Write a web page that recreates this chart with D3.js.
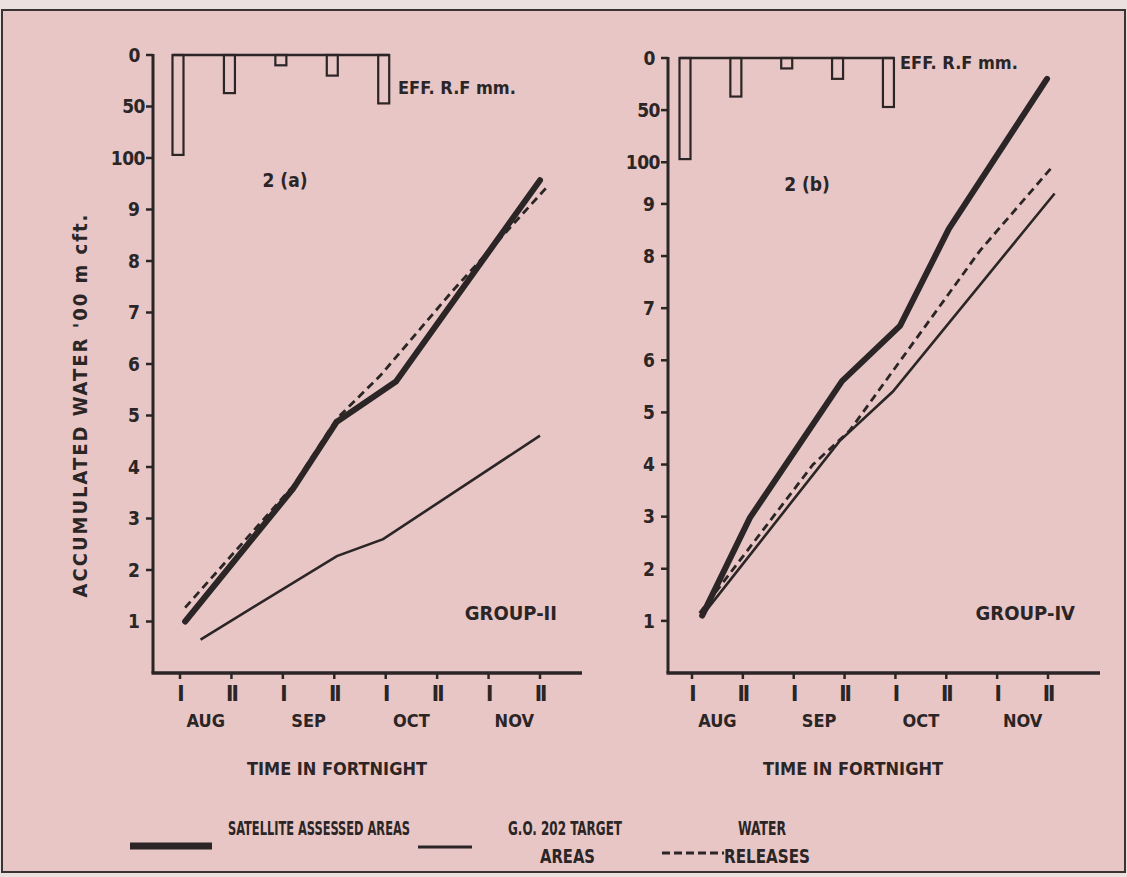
<!DOCTYPE html>
<html>
<head>
<meta charset="utf-8">
<script src="https://cdn.jsdelivr.net/npm/d3@7"></script>
<style>
  body { margin: 0; background: #ebe2df; }
  svg text { font-family: "DejaVu Sans Condensed", "DejaVu Sans", sans-serif; font-weight: bold; fill: #2b2526; }
</style>
</head>
<body>
<svg id="chart"></svg>
<script>
// data

// x categories: fortnights I / II of each month (index 1..8)
var fortnights = ['I', 'II', 'I', 'II', 'I', 'II', 'I', 'II'];
var months = ['AUG', 'SEP', 'OCT', 'NOV'];

// effective rainfall, mm, for the first five fortnights
var rainfall = [97, 37, 10, 20, 47];
var rainTicks = [0, 50, 100];
var waterTicks = [1, 2, 3, 4, 5, 6, 7, 8, 9];

// GROUP-II, accumulated water '00 m cft. (x = fortnight index)
var g2SatX = [1.1, 3.2, 4.05, 5.2, 8.0],
    g2SatY = [1.0, 3.58, 4.88, 5.66, 9.57];
var g2TargetX = [1.4, 4.05, 4.95, 8.0],
    g2TargetY = [0.65, 2.27, 2.6, 4.61];
var g2ReleaseX = [1.1, 3.2, 4.05, 4.9, 6.3, 8.13],
    g2ReleaseY = [1.27, 3.63, 4.94, 5.78, 7.42, 9.43];

// GROUP-IV
var g4SatX = [1.2, 2.14, 3.95, 5.09, 6.05, 7.98],
    g4SatY = [1.1, 2.98, 5.6, 6.66, 8.52, 11.4];
var g4TargetX = [1.2, 3.9, 4.95, 8.13],
    g4TargetY = [1.1, 4.45, 5.4, 9.2];
var g4ReleaseX = [1.15, 3.38, 4.1, 6.66, 8.1],
    g4ReleaseY = [1.15, 4.0, 4.65, 8.1, 9.73];

var W = 1127, H = 877;
var ink = '#2b2526';

var svg = d3.select('#chart')
            .attr('width', W)
            .attr('height', H);

// paper + frame
svg.append('rect')
    .attr('x', 2).attr('y', 10)
    .attr('width', W - 4).attr('height', H - 15)
    .attr('fill', '#e7c6c5')
    .attr('stroke', '#3a3334')
    .attr('stroke-width', 2);

var line = d3.line().curve(d3.curveLinear);

function zip(xs, ys) {
    return xs.map(function(d, i) { return [d, ys[i]]; });
}

function drawPanel(p) {
    var x = d3.scaleLinear().domain([1, 8]).range([p.xFirst, p.xLast]);
    var y = d3.scaleLinear().domain([0, p.yMax]).range([p.base, p.top]);
    // rainfall hangs down from the top of the same axis
    var rf = d3.scaleLinear().domain([0, 100]).range([y(p.yMax), y(p.yMax - 2)]);

    var g = svg.append('g');

    // y axis line
    g.append('line')
        .attr('x1', p.x0).attr('x2', p.x0)
        .attr('y1', p.top - 1).attr('y2', p.base)
        .attr('stroke', ink).attr('stroke-width', 3);
    // x axis line
    g.append('line')
        .attr('x1', p.x0 - 1.5).attr('x2', p.x1)
        .attr('y1', p.base).attr('y2', p.base)
        .attr('stroke', ink).attr('stroke-width', 3.5);

    // water ticks
    var wt = g.selectAll('.wt')
        .data(waterTicks)
        .enter().append('g')
        .attr('transform', function(d) { return 'translate(' + p.x0 + ',' + y(d) + ')'; });
    wt.append('line')
        .attr('x1', -7).attr('x2', 0)
        .attr('stroke', ink).attr('stroke-width', 2.5);
    wt.append('text')
        .attr('x', -13).attr('dy', '0.36em')
        .attr('text-anchor', 'end')
        .style('font-size', '19px')
        .text(function(d) { return d; });

    // rainfall ticks
    var rt = g.selectAll('.rt')
        .data(rainTicks)
        .enter().append('g')
        .attr('transform', function(d) { return 'translate(' + p.x0 + ',' + rf(d) + ')'; });
    rt.append('line')
        .attr('x1', -7).attr('x2', 0)
        .attr('stroke', ink).attr('stroke-width', 2.5);
    rt.append('text')
        .attr('x', function(d) { return d === 0 ? -13 : -8; }).attr('dy', '0.36em')
        .attr('text-anchor', 'end')
        .style('font-size', '19px')
        .style('letter-spacing', '-0.5px')
        .text(function(d) { return d; });

    // rainfall bars
    var bw = 11;
    var bx = function(d, i) { return x(i + 1) + p.barShift - bw / 2; };
    g.selectAll('.bar')
        .data(rainfall)
        .enter().append('rect')
        .attr('x', bx)
        .attr('y', rf(0))
        .attr('width', bw)
        .attr('height', function(d) { return rf(d) - rf(0); })
        .attr('fill', 'none')
        .attr('stroke', ink).attr('stroke-width', 2.2);
    g.append('line')
        .attr('x1', bx(0, 0)).attr('x2', bx(0, rainfall.length - 1) + bw)
        .attr('y1', rf(0)).attr('y2', rf(0))
        .attr('stroke', ink).attr('stroke-width', 2.5);
    g.append('text')
        .attr('x', p.rfLabel[0]).attr('y', p.rfLabel[1])
        .style('font-size', '18px')
        .text('EFF. R.F mm.');

    // fortnight ticks
    var ft = g.selectAll('.ft')
        .data(fortnights)
        .enter().append('g')
        .attr('transform', function(d, i) { return 'translate(' + x(i + 1) + ',' + p.base + ')'; });
    ft.append('line')
        .attr('y1', 0).attr('y2', 6)
        .attr('stroke', ink).attr('stroke-width', 2.5);
    ft.append('text')
        .attr('y', 28)
        .attr('text-anchor', 'middle')
        .style('font-size', '22px')
        .style('letter-spacing', '-2px')
        .text(function(d) { return d; });

    g.selectAll('.month')
        .data(months)
        .enter().append('text')
        .attr('x', function(d, i) { return x(i * 2 + 1.5); })
        .attr('y', p.base + 54)
        .attr('text-anchor', 'middle')
        .style('font-size', '18px')
        .text(function(d) { return d; });

    g.append('text')
        .attr('x', p.timeX).attr('y', p.base + 102)
        .attr('text-anchor', 'middle')
        .style('font-size', '18px')
        .text('TIME IN FORTNIGHT');

    g.append('text')
        .attr('x', p.tagX).attr('y', p.tagY)
        .attr('text-anchor', 'middle')
        .style('font-size', '19px')
        .text(p.tag);

    g.append('text')
        .attr('x', p.x1 - 25).attr('y', p.base - 53)
        .attr('text-anchor', 'end')
        .style('font-size', '20px')
        .text(p.group);

    // series
    g.append('path')
        .attr('d', line(zip(p.tx, p.ty).map(function(d) { return [x(d[0]), y(d[1])]; })))
        .attr('fill', 'none').attr('stroke', ink).attr('stroke-width', 2.6);
    g.append('path')
        .attr('d', line(zip(p.rx, p.ry).map(function(d) { return [x(d[0]), y(d[1])]; })))
        .attr('fill', 'none').attr('stroke', ink).attr('stroke-width', 2.8)
        .attr('stroke-dasharray', '8,5');
    g.append('path')
        .attr('d', line(zip(p.sx, p.sy).map(function(d) { return [x(d[0]), y(d[1])]; })))
        .attr('fill', 'none').attr('stroke', ink).attr('stroke-width', 6)
        .attr('stroke-linecap', 'round').attr('stroke-linejoin', 'round');
}

drawPanel({
    x0: 153, x1: 582, xFirst: 180, xLast: 540,
    top: 55, base: 673, yMax: 12, barShift: -2,
    rfLabel: [398, 94], tag: '2 (a)', tagX: 285, tagY: 187,
    group: 'GROUP-II', timeX: 337,
    sx: g2SatX, sy: g2SatY, tx: g2TargetX, ty: g2TargetY, rx: g2ReleaseX, ry: g2ReleaseY
});

drawPanel({
    x0: 668, x1: 1100, xFirst: 692, xLast: 1048,
    top: 58, base: 673, yMax: 11.8, barShift: -7,
    rfLabel: [900, 69], tag: '2 (b)', tagX: 807, tagY: 191,
    group: 'GROUP-IV', timeX: 853,
    sx: g4SatX, sy: g4SatY, tx: g4TargetX, ty: g4TargetY, rx: g4ReleaseX, ry: g4ReleaseY
});

// shared y title
svg.append('text')
    .attr('transform', 'translate(87,405) rotate(-90)')
    .attr('text-anchor', 'middle')
    .style('font-size', '20px')
    .style('letter-spacing', '2px')
    .text("ACCUMULATED WATER '00 m cft.");

// legend (hand lettering is condensed, so squeeze text to its width)
var legendText = [
    { t: 'SATELLITE ASSESSED AREAS', x: 228, y: 835, w: 182 },
    { t: 'G.O. 202 TARGET', x: 508, y: 835, w: 114 },
    { t: 'AREAS', x: 540, y: 863, w: 55 },
    { t: 'WATER', x: 738, y: 835, w: 48 },
    { t: 'RELEASES', x: 724, y: 863, w: 86 }
];
var legend = svg.append('g');
legend.append('line')
    .attr('x1', 130).attr('x2', 212).attr('y1', 846).attr('y2', 846)
    .attr('stroke', ink).attr('stroke-width', 7);
legend.append('line')
    .attr('x1', 418).attr('x2', 472).attr('y1', 847).attr('y2', 847)
    .attr('stroke', ink).attr('stroke-width', 2.8);
legend.append('line')
    .attr('x1', 662).attr('x2', 724).attr('y1', 853).attr('y2', 853)
    .attr('stroke', ink).attr('stroke-width', 2.8)
    .attr('stroke-dasharray', '8,4');
legend.selectAll('.lt')
    .data(legendText)
    .enter().append('text')
    .attr('x', function(d) { return d.x; })
    .attr('y', function(d) { return d.y; })
    .attr('textLength', function(d) { return d.w; })
    .attr('lengthAdjust', 'spacingAndGlyphs')
    .style('font-size', '19px')
    .text(function(d) { return d.t; });
</script>
</body>
</html>
